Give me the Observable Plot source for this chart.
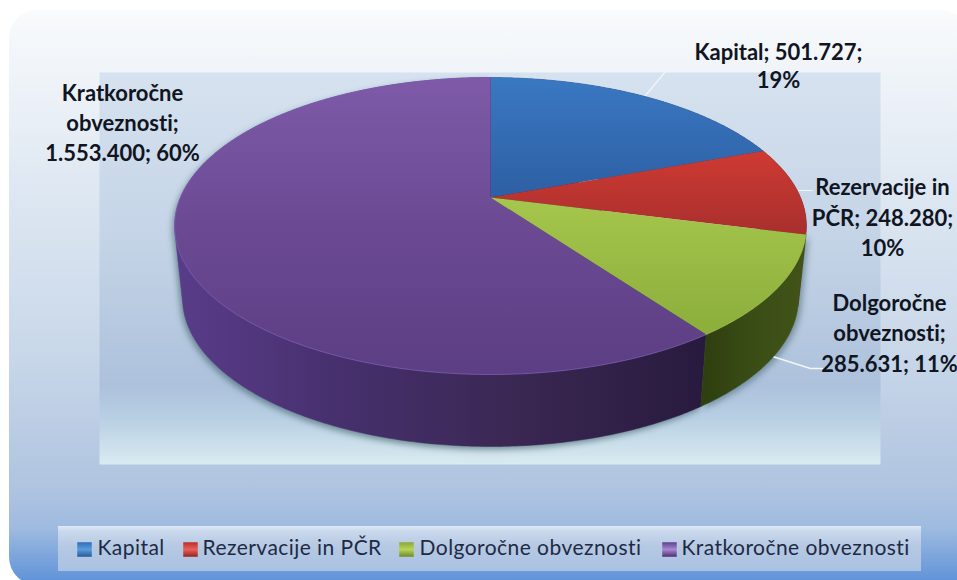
<!DOCTYPE html>
<html>
<head>
<meta charset="utf-8">
<script src="https://cdn.jsdelivr.net/npm/d3@7"></script>
<script src="https://cdn.jsdelivr.net/npm/@observablehq/plot@0.6"></script>
<style>
  html, body { margin: 0; padding: 0; background: #fff; overflow: hidden; }
  #stage { position: relative; width: 957px; height: 580px; overflow: hidden; }
  #panel { position: absolute; left: 9px; top: 10px; width: 960px; height: 575px; border-radius: 28px;
    background: linear-gradient(180deg, #f9fbfc 0%, #e3ebf4 25%, #c8d7e9 60%, #b0c4e0 83%, #9fbbe0 90%, #5c90d8 100%); }
  #legendbox { position: absolute; left: 58px; top: 526px; width: 863px; height: 45px;
    background: linear-gradient(180deg, #dfe9f6 0%, #c9d8ec 12%, #b6c9e3 45%, #a9c1e2 100%); }
  #chart { position: absolute; left: 0; top: 0; }
  #chart svg { background: transparent !important; }
  #chart text { font-variant-ligatures: none; }
  .pie-shadow { filter: blur(3px); }
  .leg-text text { letter-spacing: 0.45px; }
</style>
</head>
<body>
<div id="stage"><div id="panel"></div><div id="legendbox"></div><div id="chart"></div></div>
<script>
// ---- data ----
const categories = ["Kapital", "Rezervacije in PČR", "Dolgoročne obveznosti", "Kratkoročne obveznosti"];
const values = [501727, 248280, 285631, 1553400];
const percents = ["19%", "10%", "11%", "60%"];
const labelWrap = [
  "Kapital; 501.727;\n19%",
  "Rezervacije in\nPČR; 248.280;\n10%",
  "Dolgoročne\nobveznosti;\n285.631; 11%",
  "Kratkoročne\nobveznosti;\n1.553.400; 60%"
];

// ---- layout ----
const W = 957, H = 580;
const frame = {left: 99, right: 880, top: 72, bottom: 464};
const apexX = 490, apexY = 197, unitX = 310, unitY = 143;
const persp = 0.192, wallDepth = 72 / unitY, wallShrink = 0.975;
const X = (p) => (p - apexX) / unitX;   // page pixels -> chart units, for annotations
const Y = (p) => (p - apexY) / unitY;

// Projects an angle of the pie on to its tilted disc
function rim(theta, wall = false) {
  const u = Math.sin(theta), v = -Math.cos(theta), d = 1 - persp * v;
  return wall ? {x: (u / d) * wallShrink, y: v / d + wallDepth} : {x: u / d, y: v / d};
}
const total = d3.sum(values);
const slices = Array.from(d3.cumsum(values), (c, i) => ({
  i, name: categories[i],
  a0: ((c - values[i]) / total) * 2 * Math.PI,
  a1: (c / total) * 2 * Math.PI
}));
const arc = (a0, a1, wall) => {
  const n = Math.max(2, Math.ceil((a1 - a0) / 0.01));
  return d3.range(n + 1).map((j) => rim(a0 + ((a1 - a0) * j) / n, wall));
};
const topFace = (s) => [{x: 0, y: 0}, ...arc(s.a0, s.a1, false)];
// The wall is the hull of its two rims, so its silhouette runs straight down the disc's sides
const wallFace = (s) => {
  const pts = [...arc(s.a0, s.a1, false), ...arc(s.a0, s.a1, true)];
  return d3.polygonHull(pts.map((p) => [p.x, p.y])).map(([x, y]) => ({x, y}));
};

// ---- gradients ----
function lin(id, stops, horizontal) {
  return `<linearGradient id="${id}" x1="0" y1="0" x2="${horizontal ? 1 : 0}" y2="${horizontal ? 0 : 1}">` +
    stops.map(([o, c]) => `<stop offset="${o}" stop-color="${c}"/>`).join("") + `</linearGradient>`;
}
const defs = () => {
  const g = document.createElementNS("http://www.w3.org/2000/svg", "defs");
  g.innerHTML =
    lin("plotBg", [[0, "#d6e2ef"], [0.45, "#c3d3e6"], [0.8, "#adc1dc"], [0.88, "#b8cfe3"], [1, "#d9ebf1"]]) +
    lin("top0", [[0, "#3a78c2"], [1, "#2d5fa3"]]) +
    lin("top1", [[0, "#cf3a33"], [1, "#a82f2d"]]) +
    lin("top2", [[0, "#a6c64c"], [1, "#8bae3c"]]) +
    lin("top3", [[0, "#7e5aa8"], [0.5, "#6b4a93"], [1, "#5c3e84"]]) +
    lin("wall0", [[0, "#254d85"], [1, "#1d3d6a"]], true) +
    lin("wall1", [[0, "#7c201e"], [1, "#5e1715"]], true) +
    lin("wall2", [[0, "#2e3e10"], [0.5, "#3a4d15"], [1, "#415318"]], true) +
    lin("wall3", [[0, "#5a3c8a"], [0.3, "#47306e"], [0.65, "#3a2752"], [1, "#281a3e"]], true) +
    lin("sw0", [[0, "#2f6fb8"], [0.5, "#5b9bdc"], [1, "#245a99"]]) +
    lin("sw1", [[0, "#b8302a"], [0.5, "#e8605a"], [1, "#962320"]]) +
    lin("sw2", [[0, "#8aa836"], [0.5, "#b8d458"], [1, "#6d8a28"]]) +
    lin("sw3", [[0, "#5e3f8c"], [0.5, "#a888d0"], [1, "#4a2f72"]]);
  return g;
};

// ---- marks ----
const drawOrder = [0, 1, 3, 2];
const closed = {x: "x", y: "y", curve: "linear-closed"};
const labelFont = {fontFamily: "Lato", fontWeight: 700, fontSize: 22, fill: "#10151f"};
const marks = [
  defs,
  Plot.frame({fill: "url(#plotBg)", stroke: "none"}),
  // soft shadow round the disc wall
  Plot.line(wallFace(slices[3]), {...closed, fill: "#33565e", stroke: "none", fillOpacity: 0.6, dx: -2, dy: 3, className: "pie-shadow"}),
  Plot.line(wallFace(slices[2]), {...closed, fill: "#33565e", stroke: "none", fillOpacity: 0.5, dx: 3, dy: 2, className: "pie-shadow"}),
  // leader lines
  Plot.line([{x: X(645), y: Y(95)}, {x: X(665), y: Y(71)}], {x: "x", y: "y", stroke: "#f2f6fa", strokeWidth: 1.2}),
  Plot.line([{x: X(798), y: Y(190)}, {x: X(812), y: Y(190)}], {x: "x", y: "y", stroke: "#f2f6fa", strokeWidth: 1.2}),
  Plot.line([{x: X(769), y: Y(355)}, {x: X(810), y: Y(368)}, {x: X(822), y: Y(368)}], {x: "x", y: "y", stroke: "#f2f6fa", strokeWidth: 1.4}),
  // walls, then faces
  ...drawOrder.map((i) => Plot.line(wallFace(slices[i]), {...closed, fill: `url(#wall${i})`, stroke: `url(#wall${i})`, strokeWidth: 0.5})),
  ...drawOrder.map((i) => Plot.line(topFace(slices[i]), {...closed, fill: `url(#top${i})`, stroke: "none"})),
  // lit rim on the front edge of the face
  Plot.line(arc(slices[3].a0, slices[3].a1, false), {x: "x", y: "y", stroke: "#7d5fb4", strokeWidth: 1, strokeOpacity: 0.8}),
  Plot.line(arc(slices[2].a0, slices[2].a1, false), {x: "x", y: "y", stroke: "#a8c850", strokeWidth: 1, strokeOpacity: 0.7}),
  // data labels
  Plot.text([labelWrap[0]], {text: (d) => d, x: X(778), y: Y(64.5), lineHeight: 1.28, ...labelFont}),
  Plot.text([labelWrap[1]], {text: (d) => d, x: X(882), y: Y(215.5), lineHeight: 1.39, ...labelFont}),
  Plot.text([labelWrap[2]], {text: (d) => d, x: X(889), y: Y(331), lineHeight: 1.39, ...labelFont}),
  Plot.text([labelWrap[3]], {text: (d) => d, x: X(122), y: Y(121), lineHeight: 1.37, ...labelFont}),
  // legend
  Plot.dot(categories, {x: (d, i) => X([84, 190, 406, 669][i]), y: Y(549), symbol: "square", r: 8.2, fill: (d, i) => `url(#sw${i})`, stroke: "none"}),
  Plot.text(categories, {text: (d) => d, x: (d, i) => X([97, 202, 419, 681][i]), y: Y(548), textAnchor: "start", fontFamily: "Lato", fontSize: 21, fill: "#1e2a45", className: "leg-text"})
];

const chart = Plot.plot({
  width: W, height: H,
  marginLeft: frame.left, marginRight: W - frame.right, marginTop: frame.top, marginBottom: H - frame.bottom,
  x: {domain: [X(frame.left), X(frame.right)], axis: null},
  y: {domain: [Y(frame.bottom), Y(frame.top)], axis: null},
  style: {background: "transparent", overflow: "hidden"},
  marks
});
document.getElementById("chart").appendChild(chart);
</script>
</body>
</html>
